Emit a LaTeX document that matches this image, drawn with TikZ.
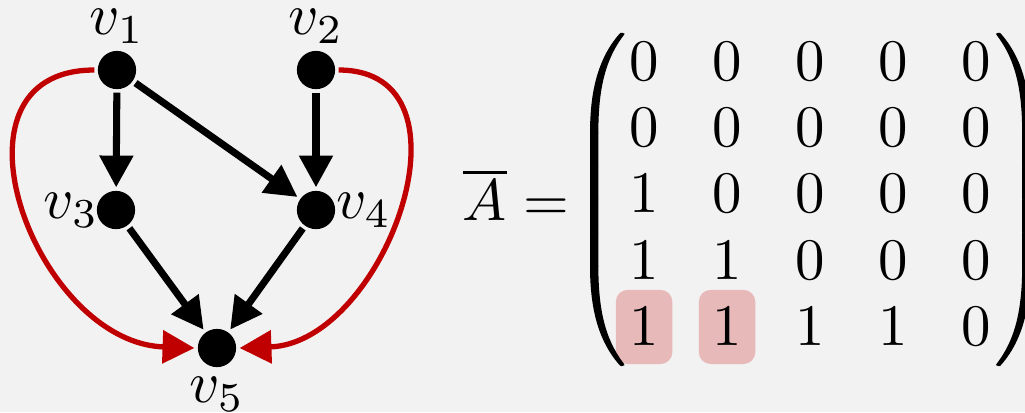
\documentclass[tikz,border=0pt]{standalone}
\usetikzlibrary{arrows.meta,matrix}
\usepackage{amsmath}
\definecolor{bggray}{HTML}{F2F2F2}
\definecolor{darkred}{HTML}{C00000}
\definecolor{hlpink}{HTML}{E8B9B9}

\begin{document}
\begin{tikzpicture}[x=0.17pt,y=-0.17pt,line width=1.2pt,>={Triangle[length=5.4pt,width=5.5pt]},
  vertex/.style={circle,fill=black,inner sep=0pt,minimum size=6.5pt},
  every label/.style={inner sep=1pt},
  edge/.style={->,line width=1.2pt},
  redge/.style={->,line width=0.9pt,draw=darkred},
  hl/.style={fill=hlpink,rounded corners=2pt},
  every delimiter/.style={yshift=0.9pt,yscale=0.94,transform shape,
    execute at begin node={\special{pdf:code 2 Tr 0.3 w}},
    execute at end node={\special{pdf:code 0 Tr}}},
  every left delimiter/.style={xshift=3.4pt},
  every right delimiter/.style={xshift=-3.3pt}]
\useasboundingbox (0,0) rectangle (1025,412);
\fill[bggray] (0,0) rectangle (1025,412);
% ---- left: the DAG on v_1..v_5 ----
\node[vertex,label={[label distance=-0.9pt]above:$v_1$}] (v1) at (117,70) {};
\node[vertex,label={[label distance=-0.9pt]above:$v_2$}] (v2) at (316,70) {};
\node[vertex,label={[label distance=-2.5pt]left:$v_3$}] (v3) at (116,210) {};
\node[vertex,label={[label distance=-2pt]right:$v_4$}] (v4) at (316,210) {};
\node[vertex,label={[label distance=-0.5pt]below:$v_5$}] (v5) at (217,348) {};
\draw[edge] (v1) -- (v3);
\draw[edge] (v1) -- (v4);
\draw[edge] (v2) -- (v4);
\draw[edge] (v3) -- (v5);
\draw[edge] (v4) -- (v5);
\draw[redge] (v1.west) to[out=180,in=178,looseness=1.38] (v5.west);
\draw[redge] (v2.east) to[out=0,in=2,looseness=1.26] (v5.east);
% ---- right: the matrix ----
\node (Abar) at (516,195) {$\overline{A} =$};
\matrix (M) at (810,194) [matrix of math nodes,left delimiter=(,right delimiter=),
  inner xsep=0pt,inner ysep=0.8pt,
  nodes={minimum width=9.6pt,minimum height=12.6pt,inner sep=0pt},
  column sep={14.1pt,between origins},row sep={11.3pt,between origins}] {
  0 & 0 & 0 & 0 & 0 \\
  0 & 0 & 0 & 0 & 0 \\
  1 & 0 & 0 & 0 & 0 \\
  1 & 1 & 0 & 0 & 0 \\
  |[hl]| 1 & |[hl]| 1 & 1 & 1 & 0 \\
};
\end{tikzpicture}
\end{document}
